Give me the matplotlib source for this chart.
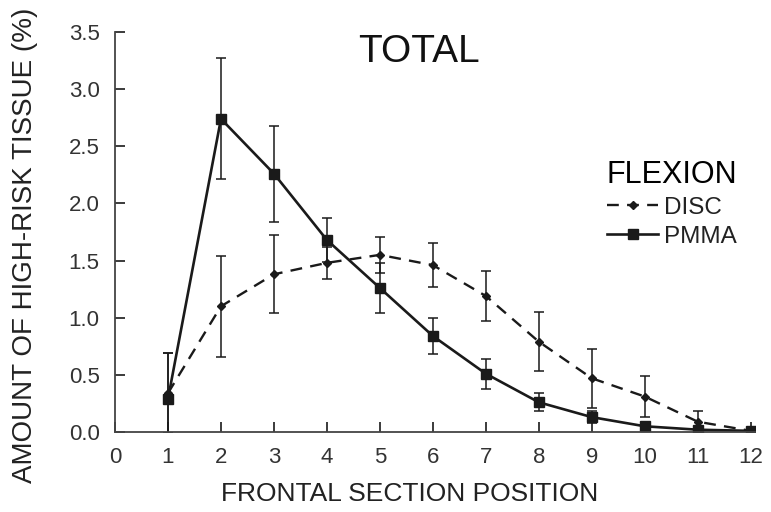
import numpy as np
import matplotlib
matplotlib.use("Agg")
import matplotlib.pyplot as plt
from matplotlib.lines import Line2D

plt.rcParams['font.family'] = ['Liberation Sans', 'DejaVu Sans']

# frontal section positions
positions = [1, 2, 3, 4, 5, 6, 7, 8, 9, 10, 11, 12]

# flexion, amount of high-risk tissue (%)
disc_mean = [0.34, 1.10, 1.38, 1.48, 1.55, 1.46, 1.19, 0.79, 0.47, 0.31, 0.09, 0.01]
disc_err = [0.35, 0.44, 0.34, 0.14, 0.16, 0.19, 0.22, 0.26, 0.26, 0.18, 0.09, 0.0]
pmma_mean = [0.29, 2.74, 2.26, 1.68, 1.26, 0.84, 0.51, 0.26, 0.13, 0.05, 0.02, 0.01]
pmma_err = [0.40, 0.53, 0.42, 0.19, 0.22, 0.16, 0.13, 0.08, 0.05, 0.02, 0.01, 0.0]

xticks = list(range(0, 13))
yticks = [0.0, 0.5, 1.0, 1.5, 2.0, 2.5, 3.0, 3.5]

ink = '#1a1a1a'

fig = plt.figure(figsize=(7.71, 5.12), dpi=100)
ax = fig.add_axes([115/771, 1 - 432/512, (755 - 115)/771, 400/512])

ax.errorbar(positions, disc_mean, yerr=disc_err, color=ink, lw=1.7,
            dashes=(5, 3.5), marker='D', ms=4.5, capsize=3.5, elinewidth=1.1,
            capthick=1.1)
ax.errorbar(positions, pmma_mean, yerr=pmma_err, color=ink, lw=1.9,
            marker='s', ms=6.5, capsize=3.5, elinewidth=1.1, capthick=1.1)

ax.set_xlim(0, 12.08)
ax.set_ylim(0, 3.5)
ax.set_xticks(xticks)
ax.set_yticks(yticks)
ax.set_yticklabels([f'{v:.1f}' for v in yticks])
ax.tick_params(direction='in', length=7, width=1.2, colors=ink,
               labelsize=16, labelcolor='#333333')
ax.tick_params(axis='x', pad=11)
ax.tick_params(axis='y', pad=11)
for s in ['top', 'right']:
    ax.spines[s].set_visible(False)
for s in ['left', 'bottom']:
    ax.spines[s].set_linewidth(1.3)
    ax.spines[s].set_color('#444444')

ax.set_xlabel('FRONTAL SECTION POSITION', fontsize=19, color='#222222')
ax.xaxis.set_label_coords((410 - 115) / 640, -0.125)
ax.set_ylabel('AMOUNT OF HIGH-RISK TISSUE (%)', fontsize=20, color='#222222')
ax.yaxis.set_label_coords(-0.12, 0.4675)

ax.text(0.475, 0.95, 'TOTAL', transform=ax.transAxes, fontsize=28,
        ha='center', va='center', color='#111111')

handles = [
    Line2D([], [], color=ink, lw=1.7, dashes=(5, 3.5), marker='D', ms=4.5),
    Line2D([], [], color=ink, lw=1.9, marker='s', ms=6.5),
]
leg = fig.legend(handles, ['DISC', 'PMMA'], title='FLEXION', frameon=False,
                 fontsize=17.5, title_fontsize=22, loc='upper right',
                 bbox_to_anchor=(737/771, 1 - 160/512), handlelength=2.1,
                 handletextpad=0.25, labelspacing=0.28, borderpad=0,
                 borderaxespad=0)
leg._legend_box.align = 'right'
for t in leg.get_texts():
    t.set_color('#222222')

fig.savefig('out.png', dpi=100)
